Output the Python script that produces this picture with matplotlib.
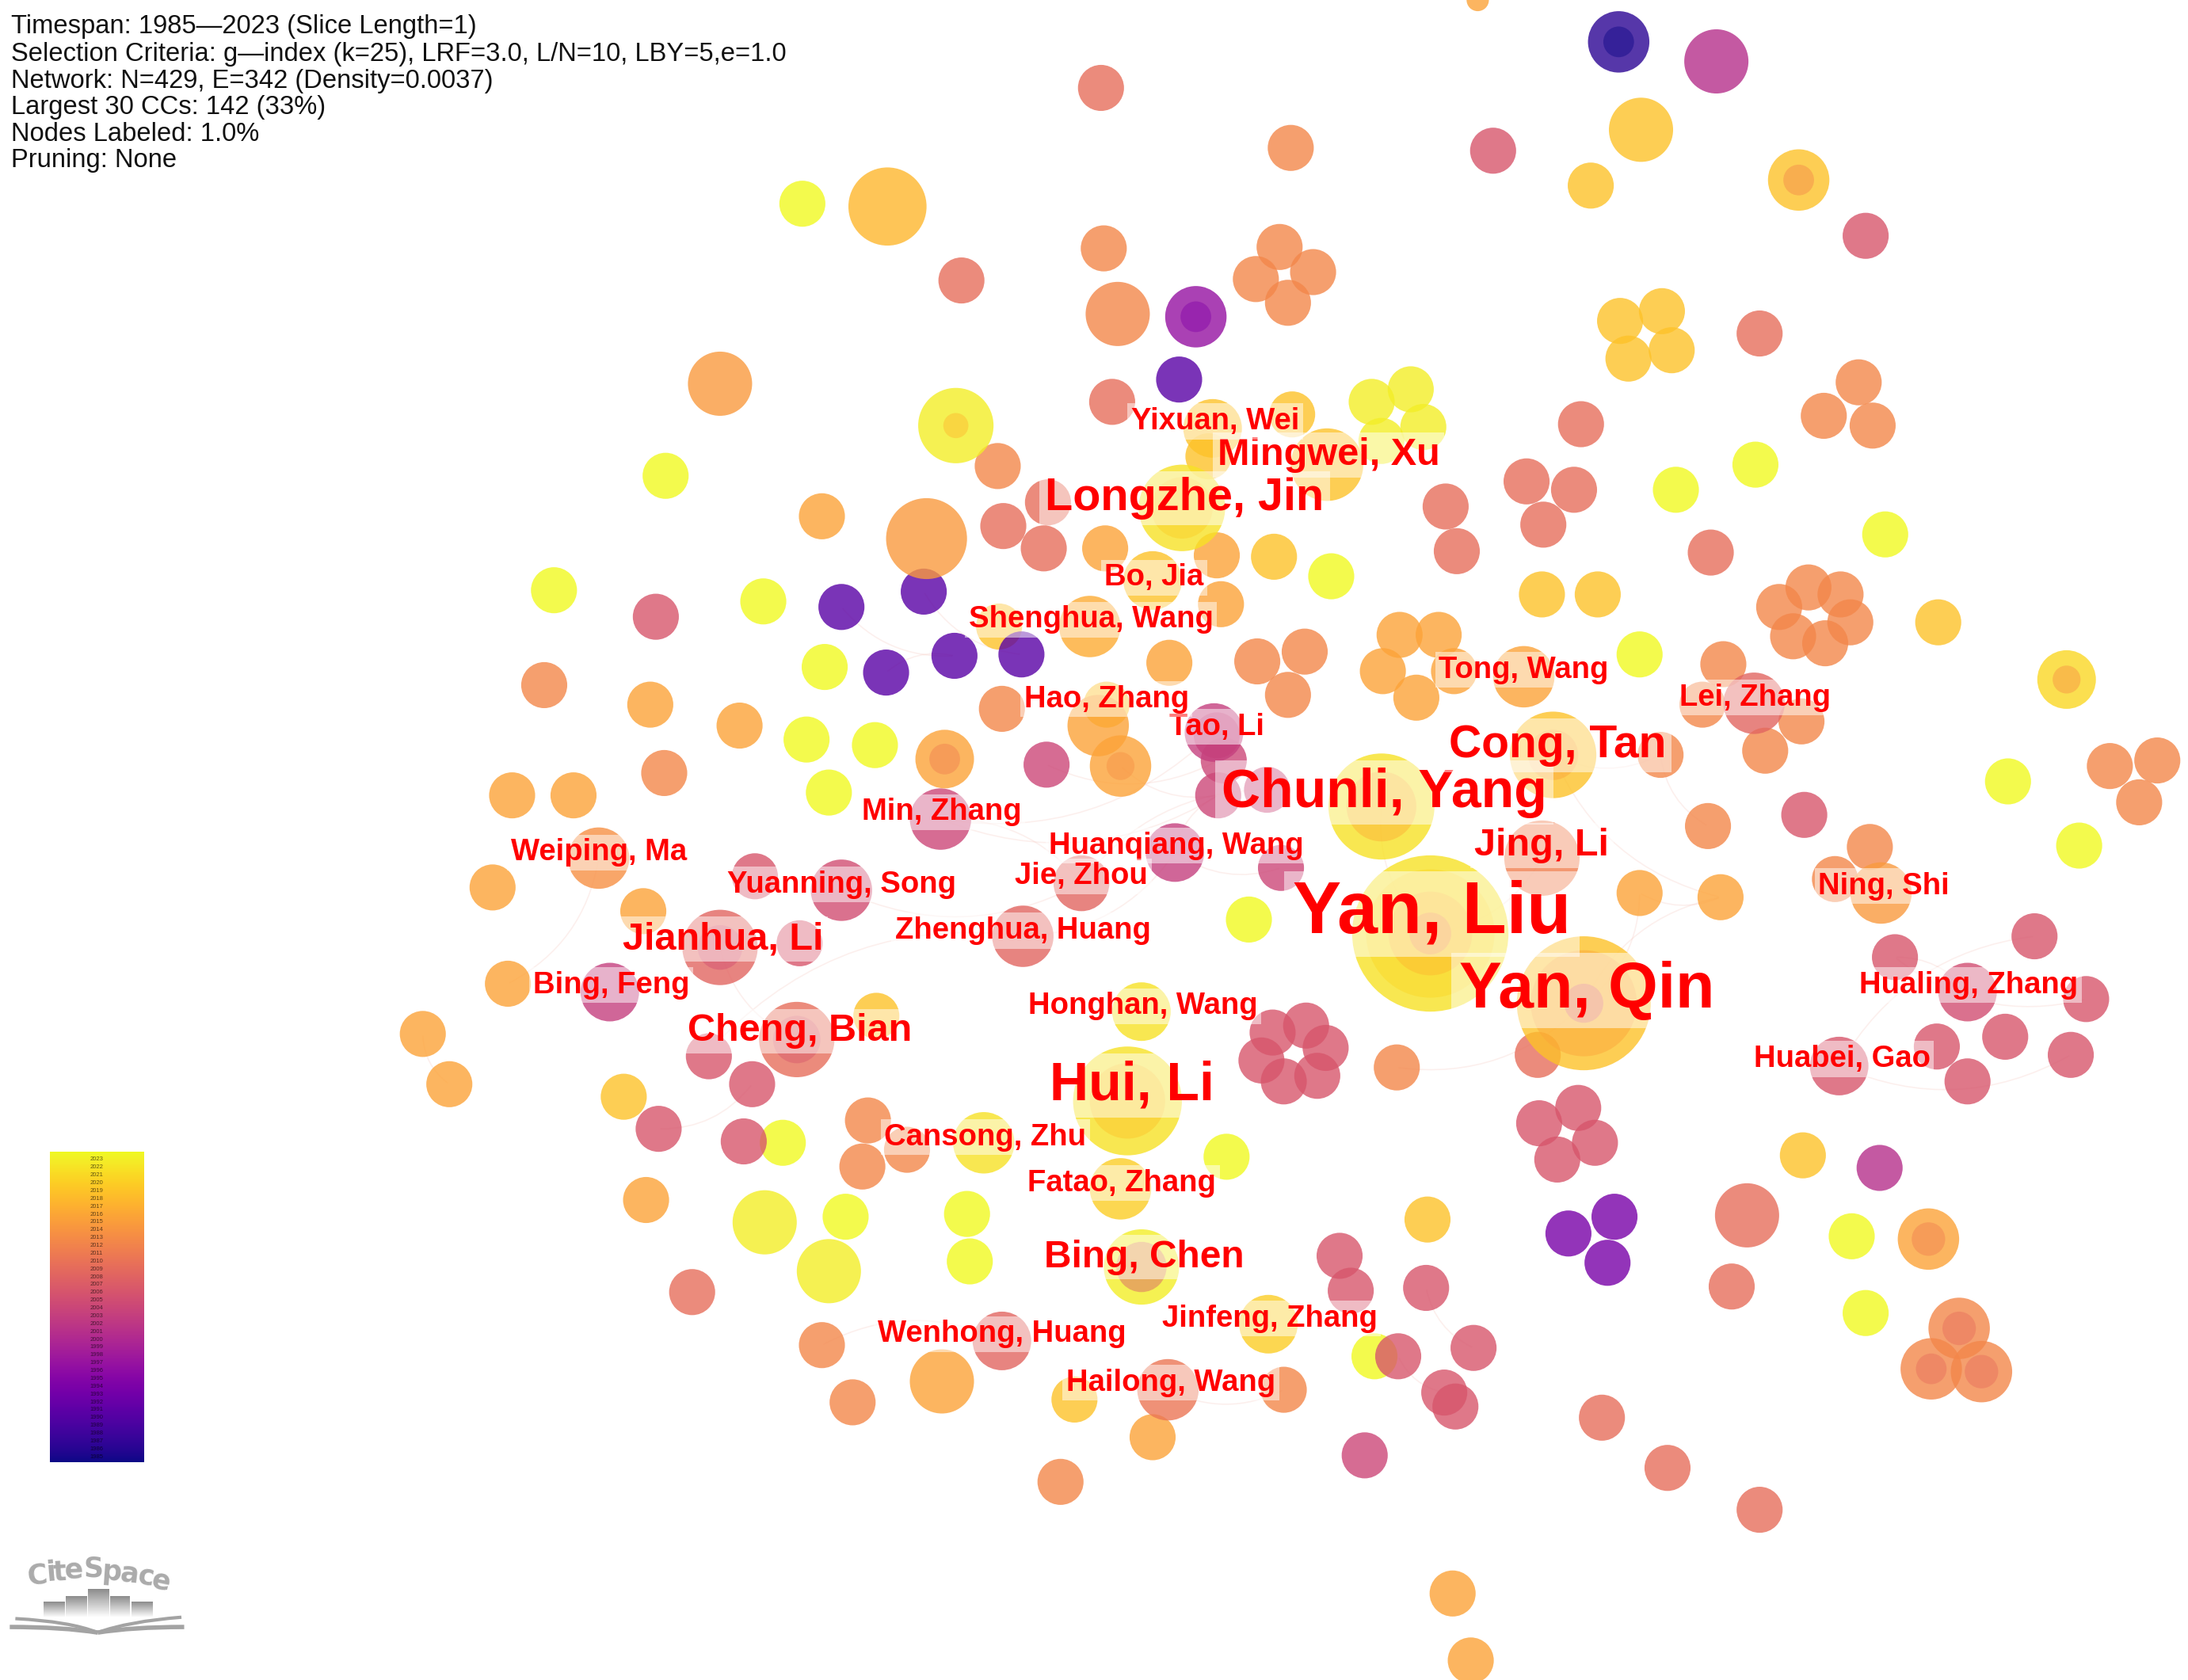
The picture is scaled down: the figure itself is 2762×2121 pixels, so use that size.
import numpy as np
import matplotlib
matplotlib.use("Agg")
import matplotlib.pyplot as plt
from matplotlib.collections import EllipseCollection
from matplotlib.patches import FancyArrowPatch, PathPatch
from matplotlib.path import Path

plt.rcParams['font.family'] = ['Liberation Sans', 'DejaVu Sans']

# header block
header_lines = [
    "Timespan: 1985\u20142023 (Slice Length=1)",
    "Selection Criteria: g\u2014index (k=25), LRF=3.0, L/N=10, LBY=5,e=1.0",
    "Network: N=429, E=342 (Density=0.0037)",
    "Largest 30 CCs: 142 (33%)",
    "Nodes Labeled: 1.0%",
    "Pruning: None",
]
header_y = [19, 39, 58, 77, 96, 115]

# plain nodes, one pair of lists per colour group
y2023_x = [575, 477, 397, 547, 591, 578, 627, 594, 1201, 1258, 1351, 1175, 954, 1439, 1490, 895, 693, 695, 606, 561, 1327, 1337, 985, 879]
y2023_y = [146, 341, 423, 431, 478, 530, 534, 568, 351, 333, 383, 469, 413, 560, 606, 659, 870, 904, 872, 819, 886, 941, 972, 829]
y2022_x = [983, 1011, 1020, 990]
y2022_y = [288, 279, 306, 316]
y2018_x = [1161, 1191, 1198, 1167, 1140, 1292, 1105, 1145, 770, 913, 1023, 447, 926, 1389, 628, 716, 866, 793]
y2018_y = [230, 223, 251, 257, 133, 828, 426, 426, 1003, 399, 874, 786, 297, 446, 728, 449, 327, 505]
y2015_x = [589, 466, 530, 367, 411, 353, 364, 303, 322, 463, 461, 1233, 1175, 826, 1041, 1054, 792, 872, 875, 838, 1003, 1031, 1042, 1015, 991]
y2015_y = [370, 505, 520, 570, 570, 636, 705, 741, 777, 860, 653, 643, 640, 1030, 1142, 1190, 393, 398, 433, 475, 455, 455, 481, 500, 481]
y2012_x = [1340, 1001, 760, 611, 791, 925, 917, 900, 941, 923, 901, 935, 923, 715, 390, 1224, 1275, 1296, 1319, 1326, 1308, 1285, 1512, 1546, 1533, 1307, 1332, 1342, 1190, 589, 622, 618, 650, 920, 1235, 1220, 1291, 1265, 476, 718, 1315]
y2012_y = [607, 765, 1062, 1005, 178, 106, 177, 200, 195, 217, 474, 467, 498, 334, 491, 592, 435, 421, 426, 446, 461, 456, 549, 545, 575, 298, 274, 305, 541, 964, 803, 836, 824, 996, 476, 505, 517, 538, 554, 508, 630]
y2009_x = [689, 719, 748, 751, 1226, 1261, 1133, 1036, 1044, 1106, 1094, 1128, 789, 797, 1241, 1148, 1195, 1261, 496, 1102]
y2009_y = [201, 377, 393, 360, 396, 239, 304, 363, 395, 376, 345, 351, 63, 288, 922, 1016, 1052, 1082, 926, 756]
y2006_x = [472, 533, 539, 508, 470, 1358, 1458, 1495, 1437, 1484, 1388, 1410, 1103, 1131, 1143, 1116, 912, 936, 950, 944, 920, 904, 960, 968, 1022, 1056, 1002, 1035, 1043, 573, 541, 1070, 1337, 1293]
y2006_y = [809, 818, 777, 757, 442, 686, 671, 716, 743, 756, 750, 775, 805, 794, 819, 831, 740, 735, 751, 771, 775, 760, 900, 925, 923, 966, 972, 998, 1008, 676, 628, 108, 169, 584]
y2004_x = [750, 978, 873, 908, 877, 872, 918]
y2004_y = [548, 1043, 570, 566, 545, 527, 622]
y2001_x = [1347]
y2001_y = [837]
y1994_x = [1124, 1157, 1152]
y1994_y = [884, 872, 905]
y1991_x = [603, 662, 684, 732, 635, 845]
y1991_y = [435, 424, 470, 469, 482, 272]

# larger nodes and rings: x, y, radius, last active year
ring_x = [1025, 1025, 1025, 1025, 1135, 1135, 1135, 990, 990, 808, 808, 847, 847, 1113, 1113, 951, 516, 516, 571, 571,
          818, 818, 1105, 429, 674, 603, 775, 733, 842, 870, 787, 781, 826, 869, 1092, 1257, 1348, 1410, 1318, 818, 705, 803, 909, 718, 837, 437,
          685, 685, 1289, 1289, 1481, 1481, 1382, 1382, 1404, 1404, 1384, 1384, 1420, 1420, 677, 677, 803, 803, 857, 857, 1160, 1160,
          636, 516, 664, 801, 675, 548, 594, 1176, 1252, 1230, 1059]
ring_y = [669, 669, 669, 669, 719, 719, 719, 578, 578, 789, 789, 364, 364, 541, 541, 333, 679, 679, 745, 745,
          908, 908, 615, 615, 587, 638, 633, 671, 611, 525, 520, 449, 416, 307, 485, 504, 640, 711, 764, 725, 819, 852, 949, 961, 996, 711,
          305, 305, 129, 129, 487, 487, 888, 888, 952, 952, 981, 981, 983, 983, 544, 544, 549, 549, 227, 227, 30, 30,
          148, 275, 386, 225, 990, 876, 911, 93, 871, 44, 0]
ring_r = [56, 46, 30, 15, 48, 38, 14, 38, 25, 39, 27, 31, 22, 31, 18, 26, 27, 16, 27, 17,
          27, 18, 27, 22, 22, 22, 20, 22, 21, 21, 22, 22, 21, 21, 22, 22, 22, 21, 21, 21, 22, 22, 21, 21, 22, 21,
          27, 9, 22, 11, 21, 10, 22, 12, 22, 12, 22, 11, 22, 12, 21, 11, 22, 10, 22, 11, 22, 11,
          28, 23, 29, 23, 23, 23, 23, 23, 23, 23, 8]
ring_year = [2021, 2020, 2017, 2012, 2018, 2015, 2006, 2021, 2016, 2021, 2018, 2021, 2019, 2018, 2015, 2018, 2008, 2005, 2009, 2006,
             2022, 2006, 2011, 2013, 2004, 2005, 2008, 2008, 2003, 2003, 2015, 2016, 2018, 2018, 2015, 2008, 2014, 2005, 2006, 2021, 2021, 2019, 2019, 2008, 2010, 2003,
             2022, 2017, 2018, 2012, 2020, 2013, 2015, 2011, 2012, 2009, 2012, 2009, 2012, 2009, 2015, 2011, 2015, 2013, 1997, 1995, 1987, 1985,
             2017, 2014, 2014, 2012, 2015, 2022, 2022, 2018, 2009, 2001, 2015]

# author labels
label_names = ["Yan, Liu", "Yan, Qin", "Chunli, Yang", "Hui, Li", "Longzhe, Jin", "Cong, Tan", "Mingwei, Xu", "Jianhua, Li",
               "Cheng, Bian", "Bing, Chen", "Jing, Li", "Weiping, Ma", "Huanqiang, Wang", "Tao, Li", "Min, Zhang", "Yuanning, Song",
               "Jie, Zhou", "Zhenghua, Huang", "Hao, Zhang", "Shenghua, Wang", "Bo, Jia", "Yixuan, Wei", "Tong, Wang", "Lei, Zhang",
               "Ning, Shi", "Hualing, Zhang", "Huabei, Gao", "Honghan, Wang", "Cansong, Zhu", "Fatao, Zhang", "Jinfeng, Zhang",
               "Wenhong, Huang", "Hailong, Wang", "Bing, Feng"]
label_x = [1026, 1137, 992, 811, 849, 1116, 952, 518, 573, 820, 1105, 429, 843, 872, 675, 603, 775, 733, 793, 782, 827, 871, 1092, 1258, 1350, 1411, 1320, 819, 706, 804, 910, 718, 839, 438]
label_y = [655, 710, 568, 778, 357, 534, 326, 673, 739, 901, 606, 611, 606, 521, 582, 634, 628, 667, 501, 444, 414, 302, 480, 500, 635, 706, 759, 721, 815, 848, 945, 956, 991, 706]
label_size = [66, 58, 49, 49, 41.5, 41, 35, 35, 35, 34.5, 35, 27.5, 27.5, 27.5, 27.5, 27.5, 27.5, 27.5, 27.5, 27.5, 27.5, 27.5, 27.5, 27.5, 27.5, 27.5, 27.5, 27.5, 27.5, 27.5, 27.5, 27.5, 27.5, 27.5]

# faint co-authorship links, pairs of endpoints
edge_x0 = [1025, 1135, 990, 1113, 1175, 1233, 1001, 873, 908, 842, 775, 733, 674, 603, 1410, 1358, 1458, 1318, 472, 364, 303, 603, 662, 684, 1022, 1002, 837, 718, 1190, 1113, 674, 750, 803, 733, 516]
edge_y0 = [669, 719, 578, 541, 640, 643, 765, 570, 566, 611, 633, 671, 587, 638, 711, 686, 671, 764, 809, 705, 741, 435, 424, 470, 923, 972, 996, 961, 541, 541, 587, 548, 549, 671, 679]
edge_x1 = [1105, 1175, 1025, 1190, 1233, 1135, 1135, 842, 775, 918, 674, 842, 873, 775, 1358, 1495, 1318, 1484, 539, 429, 322, 684, 732, 635, 1056, 1035, 920, 589, 1224, 1233, 870, 873, 873, 516, 571]
edge_y1 = [615, 640, 669, 541, 643, 719, 719, 611, 633, 622, 587, 611, 570, 633, 686, 716, 764, 756, 777, 615, 777, 470, 469, 482, 966, 998, 996, 964, 592, 643, 525, 545, 570, 745, 745]

years_axis = list(range(2023, 1984, -1))

# logo
logo_word = "CiteSpace"
logo_x = [26.5, 36.5, 42.5, 53, 67, 80, 93, 104.5, 115.5]
logo_y = [1129, 1127, 1127, 1125, 1124, 1127, 1128, 1130, 1133]
logo_rot = [6, 5, 4, 2, 0, -4, -7, -9, -12]
bar_left = [31, 47, 63, 79, 94]
bar_right = [46, 62, 78, 93, 109]
bar_top = [1148, 1144, 1139, 1144, 1148]
bar_bottom = 1159

fig = plt.figure(figsize=(27.62, 21.21), dpi=100)
ax = fig.add_axes([0, 0, 1, 1])
W, H = 1568, 1204
cmap = plt.get_cmap('plasma')


def year_color(year, alpha=0.8):
    return cmap((year - 1985) / 38, alpha=alpha)


# links
for x0, y0, x1, y1 in zip(edge_x0, edge_y0, edge_x1, edge_y1):
    ax.add_patch(FancyArrowPatch((x0, y0), (x1, y1), connectionstyle='arc3,rad=0.25', arrowstyle='-',
                                 lw=1.2, color='#f6c9c0', alpha=0.28, zorder=1))

# nodes
groups = [(y2023_x, y2023_y, 2023), (y2022_x, y2022_y, 2022), (y2018_x, y2018_y, 2018), (y2015_x, y2015_y, 2015),
          (y2012_x, y2012_y, 2012), (y2009_x, y2009_y, 2009), (y2006_x, y2006_y, 2006), (y2004_x, y2004_y, 2004),
          (y2001_x, y2001_y, 2001), (y1994_x, y1994_y, 1994), (y1991_x, y1991_y, 1991)]
xs, ys, rs, cols = [], [], [], []
for gx, gy, yr in groups:
    xs += gx
    ys += gy
    rs += [16.5] * len(gx)
    cols += [year_color(yr)] * len(gx)
for i in range(len(ring_x)):
    # an inner ring only tints the node it sits in
    inner = i > 0 and ring_x[i] == ring_x[i - 1] and ring_y[i] == ring_y[i - 1]
    xs.append(ring_x[i])
    ys.append(ring_y[i])
    rs.append(ring_r[i])
    cols.append(year_color(ring_year[i], 0.45 if inner else 0.8))

d = 2 * np.array(rs, dtype=float)
nodes = EllipseCollection(d, d, np.zeros(len(d)), units='xy', offsets=np.column_stack([xs, ys]),
                          offset_transform=ax.transData, facecolors=cols, edgecolors='none', zorder=2)
ax.add_collection(nodes)

# labels with the half transparent box CiteSpace puts behind them
for name, lx, ly, size in zip(label_names, label_x, label_y, label_size):
    ax.text(lx, ly, name, color='#ff0000', fontsize=size, fontweight='bold', ha='center', va='center', zorder=4,
            bbox=dict(fc='white', ec='none', alpha=0.5, pad=size * 0.12))

# header
for line, y in zip(header_lines, header_y):
    ax.text(8, y, line, fontsize=23.6, color='#111111', ha='left', va='center', zorder=5)

# colour bar
grad = np.linspace(1, 0, 256).reshape(-1, 1)
ax.imshow(grad, cmap=cmap, extent=(36, 103, 1048, 826), aspect='auto', zorder=3, interpolation='bilinear')
for yr, y in zip(years_axis, np.linspace(831, 1044, len(years_axis))):
    ax.text(69, y, str(yr), fontsize=5.5, color='black', alpha=0.6, ha='center', va='center', zorder=5)

# logo
for ch, lx, ly, rot in zip(logo_word, logo_x, logo_y, logo_rot):
    ax.text(lx, ly, ch, fontsize=25, family='DejaVu Sans', fontweight='bold', color='#ababab',
            ha='center', va='center', rotation=rot, zorder=5)
bar_grad = np.linspace(0.55, 1, 64).reshape(-1, 1)
for l, r, t in zip(bar_left, bar_right, bar_top):
    ax.imshow(bar_grad, cmap='gray', vmin=0, vmax=1, extent=(l, r, bar_bottom, t), aspect='auto', zorder=3)
for pts, lw in (([(11, 1160), (50, 1162), (70, 1170)], 3), ([(7, 1166), (45, 1166), (70, 1170)], 4),
                ([(70, 1170), (92, 1162), (130, 1159)], 3), ([(70, 1170), (95, 1166), (132, 1166)], 4)):
    ax.add_patch(PathPatch(Path(pts, [Path.MOVETO, Path.CURVE3, Path.CURVE3]), fc='none', ec='#a3a3a3', lw=lw, zorder=3))

ax.set_xlim(0, W)
ax.set_ylim(H, 0)
ax.axis('off')
fig.savefig('out.png', dpi=100, facecolor='white')
